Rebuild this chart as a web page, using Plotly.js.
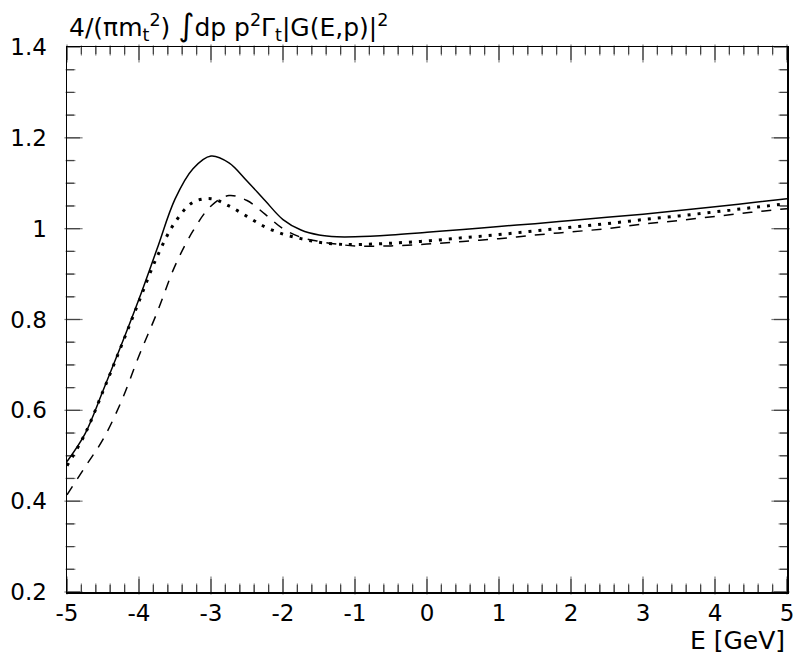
<!DOCTYPE html>
<html>
<head>
<meta charset="utf-8">
<script src="https://cdn.plot.ly/plotly-3.0.1.min.js"></script>
<style>html,body{margin:0;padding:0;background:#fff;}#chart{width:803px;height:657px;}</style>
</head>
<body>
<div id="chart"></div>
<script>
const energy = [-5, -4.75, -4.5, -4.25, -4, -3.75, -3.5, -3.25, -3, -2.75, -2.5, -2.25, -2, -1.75, -1.5, -1.25, -1, -0.5, 0, 0.5, 1, 1.5, 2, 2.5, 3, 3.5, 4, 4.5, 5];
const solidVals = [0.487, 0.548, 0.643, 0.742, 0.845, 0.955, 1.065, 1.132, 1.16, 1.145, 1.105, 1.062, 1.02, 0.997, 0.986, 0.982, 0.982, 0.986, 0.992, 0.998, 1.005, 1.011, 1.018, 1.025, 1.032, 1.04, 1.048, 1.057, 1.066];
const dashedVals = [0.414, 0.475, 0.536, 0.618, 0.72, 0.815, 0.918, 0.995, 1.05, 1.073, 1.062, 1.032, 1.0, 0.981, 0.972, 0.966, 0.962, 0.962, 0.966, 0.972, 0.978, 0.986, 0.993, 1.0, 1.01, 1.018, 1.027, 1.036, 1.044];
const dottedVals = [0.478, 0.548, 0.642, 0.74, 0.84, 0.938, 1.014, 1.058, 1.066, 1.05, 1.027, 1.004, 0.988, 0.978, 0.97, 0.966, 0.965, 0.968, 0.973, 0.98, 0.987, 0.995, 1.003, 1.011, 1.02, 1.028, 1.037, 1.046, 1.055];
const xTickVals = [-5, -4, -3, -2, -1, 0, 1, 2, 3, 4, 5];
const xTickText = ['-5', '-4', '-3', '-2', '-1', '0', '1', '2', '3', '4', '5'];
const yTickVals = [0.2, 0.4, 0.6, 0.8, 1, 1.2, 1.4];
const yTickText = ['0.2', '0.4', '0.6', '0.8', '1', '1.2', '1.4'];
const xRange = [-5, 5], yRange = [0.2, 1.4];
const xMinorStep = 0.2, yMinorStep = 0.05;

const W = 803, H = 657;
const margin = {l: 67, r: 16, t: 47, b: 65};
const plotW = W - margin.l - margin.r, plotH = H - margin.t - margin.b;
const majorLenPx = 13, minorLenPx = 7;
const yPerPx = (yRange[1] - yRange[0]) / plotH, xPerPx = (xRange[1] - xRange[0]) / plotW;

// tick marks on all four sides, derived from the axis ranges and steps
const tickX = [], tickY = [];
const vMarkX = [], vMarkY = [], vMarkS = [];
const hMarkX = [], hMarkY = [], hMarkS = [];
const nX = Math.round((xRange[1] - xRange[0]) / xMinorStep);
for (let i = 0; i <= nX; i++) {
  const v = xRange[0] + i * xMinorStep;
  const px = i % 5 === 0 ? majorLenPx : minorLenPx;
  const len = px * yPerPx;
  tickX.push(v, v, null, v, v, null);
  tickY.push(yRange[0], yRange[0] + len, null, yRange[1], yRange[1] - len, null);
  vMarkX.push(v, v);
  vMarkY.push(yRange[0] + len / 2, yRange[1] - len / 2);
  vMarkS.push(px, px);
}
const nY = Math.round((yRange[1] - yRange[0]) / yMinorStep);
for (let i = 0; i <= nY; i++) {
  const v = yRange[0] + i * yMinorStep;
  const px = i % 4 === 0 ? majorLenPx : minorLenPx;
  const len = px * xPerPx;
  tickX.push(xRange[0], xRange[0] + len, null, xRange[1], xRange[1] - len, null);
  tickY.push(v, v, null, v, v, null);
  hMarkX.push(xRange[0] + len / 2, xRange[1] - len / 2);
  hMarkY.push(v, v);
  hMarkS.push(px, px);
}

const font = "'DejaVu Sans', sans-serif";
const tickColor = '#444';
const traces = [
  {x: tickX, y: tickY, mode: 'lines', line: {color: tickColor, width: 1.2}, hoverinfo: 'skip', connectgaps: false},
  {x: vMarkX, y: vMarkY, mode: 'markers', hoverinfo: 'skip', cliponaxis: false,
   marker: {symbol: 'line-ns-open', size: vMarkS, color: tickColor, line: {color: tickColor, width: 1.2}}},
  {x: hMarkX, y: hMarkY, mode: 'markers', hoverinfo: 'skip', cliponaxis: false,
   marker: {symbol: 'line-ew-open', size: hMarkS, color: tickColor, line: {color: tickColor, width: 1.2}}},
  {x: energy, y: solidVals, mode: 'lines', line: {color: '#000', width: 1.5, shape: 'spline', smoothing: 1}},
  {x: energy, y: dashedVals, mode: 'lines', line: {color: '#000', width: 1.5, dash: '10px,9px', shape: 'spline', smoothing: 1}},
  {x: energy, y: dottedVals, mode: 'lines', line: {color: '#000', width: 3, dash: '3px,7px', shape: 'spline', smoothing: 1}}
];
const layout = {
  width: W, height: H,
  margin: margin,
  paper_bgcolor: '#fff', plot_bgcolor: '#fff',
  showlegend: false,
  xaxis: {
    range: xRange, tickmode: 'array', tickvals: xTickVals, ticktext: xTickText,
    showgrid: false, zeroline: false, showline: true, linecolor: '#000', linewidth: 1.5,
    mirror: true, ticks: '',
    tickfont: {family: font, size: 23, color: '#000'}
  },
  yaxis: {
    range: yRange, tickmode: 'array', tickvals: yTickVals, ticktext: yTickText,
    showgrid: false, zeroline: false, showline: true, linecolor: '#000', linewidth: 1.5,
    mirror: true, ticks: '',
    tickfont: {family: font, size: 23, color: '#000'},
    ticklabelstandoff: 14
  },
  annotations: [
    {xref: 'paper', yref: 'paper', x: 0, y: 1, xanchor: 'left', yanchor: 'bottom', yshift: 0, showarrow: false,
     text: '4/(πm<sub>t</sub><sup>2</sup>) <span style="font-size:31px">∫</span>dp p<sup>2</sup>Γ<sub>t</sub>|G(E,p)|<sup>2</sup>',
     font: {family: font, size: 25, color: '#000'}},
    {xref: 'paper', yref: 'paper', x: 1, y: 0, xanchor: 'right', yanchor: 'top', yshift: -32, showarrow: false,
     text: 'E [GeV]', font: {family: font, size: 25, color: '#000'}}
  ]
};
Plotly.newPlot('chart', traces, layout, {displayModeBar: false, staticPlot: true});
</script>
</body>
</html>
